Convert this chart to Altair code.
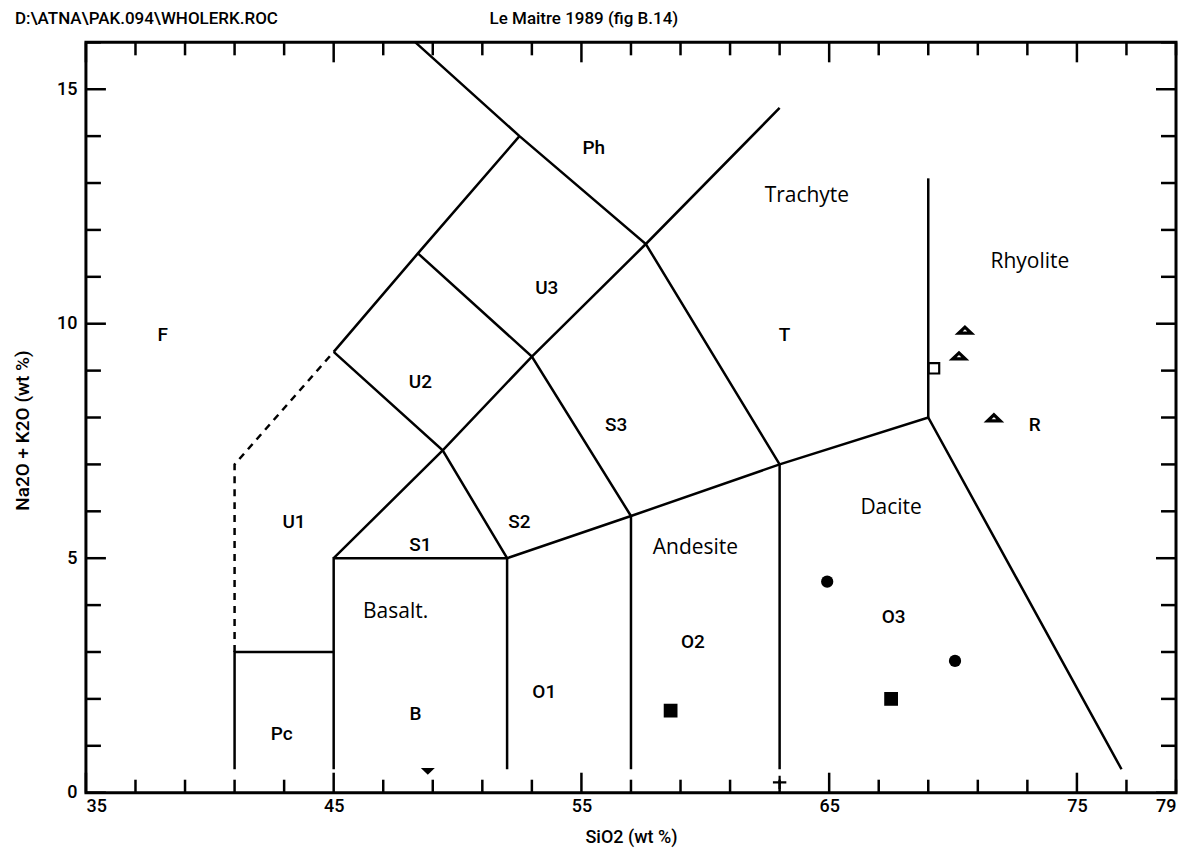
import altair as alt
import pandas as pd

# ---------------- data ----------------
X_DOMAIN = [35, 79]
Y_DOMAIN = [0, 16]

# boundary polylines (SiO2, Na2O+K2O)
seg_pc_x = [41, 41, 45]
seg_pc_y = [0.5, 3, 3]
seg_basalt_x = [45, 45, 52, 52]
seg_basalt_y = [0.5, 5, 5, 0.5]
seg_subalk_x = [52, 57, 63, 69, 76.8]
seg_subalk_y = [5, 5.9, 7, 8, 0.5]
seg_o1o2_x = [57, 57]
seg_o1o2_y = [0.5, 5.9]
seg_o2o3_x = [63, 63]
seg_o2o3_y = [0.5, 7]
seg_tr_x = [69, 69]
seg_tr_y = [8, 13.1]
seg_alk_x = [45, 49.4, 53, 57.6, 63]
seg_alk_y = [5, 7.3, 9.3, 11.7, 14.6]
seg_u1u2_x = [45, 49.4, 52]
seg_u1u2_y = [9.4, 7.3, 5]
seg_u2u3_x = [48.4, 53, 57]
seg_u2u3_y = [11.5, 9.3, 5.9]
seg_ph_x = [48.3, 52.5, 57.6, 63]
seg_ph_y = [16, 14, 11.7, 7]
seg_f_x = [45, 48.4, 52.5]
seg_f_y = [9.4, 11.5, 14]
dash_x = [41, 41, 45]
dash_y = [3, 7, 9.4]

# field codes
code_text = ["F", "Ph", "U3", "U2", "T", "S3", "R", "U1", "S1", "S2", "O3", "O2", "O1", "B", "Pc"]
code_x = [38.1, 55.5, 53.6, 48.5, 63.2, 56.4, 73.3, 43.4, 48.5, 52.5, 67.6, 59.5, 53.5, 48.3, 42.9]
code_y = [9.76, 13.74, 10.76, 8.76, 9.76, 7.84, 7.84, 5.77, 5.28, 5.77, 3.75, 3.22, 2.15, 1.68, 1.26]

# rock names
name_text = ["Trachyte", "Rhyolite", "Dacite", "Andesite", "Basalt."]
name_x = [64.1, 73.1, 67.5, 59.6, 47.5]
name_y = [12.72, 11.31, 6.07, 5.22, 3.86]

# samples
tri_x = [70.48, 70.24, 71.65]
tri_y = [9.86, 9.31, 7.99]
open_sq_x = [69.23]
open_sq_y = [9.05]
circle_x = [64.92, 70.08]
circle_y = [4.50, 2.81]
square_x = [58.6, 67.5]
square_y = [1.75, 2.0]
down_tri_x = [48.8]
down_tri_y = [0.45]
plus_x = [63.0]
plus_y = [0.22]

x_tick_values = list(range(35, 80, 2))
y_tick_values = list(range(0, 17))
x_label_values = [35, 45, 55, 65, 75, 79]
y_label_values = [0, 5, 10, 15]

header_text = ["D:\\ATNA\\PAK.094\\WHOLERK.ROC", "Le Maitre 1989 (fig B.14)"]

# ---------------- build tables ----------------
W, H = 1091, 751

def seg_rows(name, xs, ys):
    return [{"seg": name, "i": i, "x": x, "y": y} for i, (x, y) in enumerate(zip(xs, ys))]

solid = []
for name, xs, ys in [
    ("pc", seg_pc_x, seg_pc_y), ("basalt", seg_basalt_x, seg_basalt_y),
    ("subalk", seg_subalk_x, seg_subalk_y), ("o1o2", seg_o1o2_x, seg_o1o2_y),
    ("o2o3", seg_o2o3_x, seg_o2o3_y), ("tr", seg_tr_x, seg_tr_y),
    ("alk", seg_alk_x, seg_alk_y), ("u1u2", seg_u1u2_x, seg_u1u2_y),
    ("u2u3", seg_u2u3_x, seg_u2u3_y), ("ph", seg_ph_x, seg_ph_y),
    ("f", seg_f_x, seg_f_y),
]:
    solid += seg_rows(name, xs, ys)
solid_df = pd.DataFrame(solid)
dash_df = pd.DataFrame(seg_rows("dash", dash_x, dash_y))

codes_df = pd.DataFrame({"t": code_text, "x": code_x, "y": code_y})
names_df = pd.DataFrame({"t": name_text, "x": name_x, "y": name_y})

xt_df = pd.DataFrame({"x": x_tick_values, "major": [(v - 35) % 10 == 0 for v in x_tick_values]})
yt_df = pd.DataFrame({"y": y_tick_values, "major": [v % 5 == 0 for v in y_tick_values]})

xs = alt.Scale(domain=X_DOMAIN, nice=False, zero=False)
ys = alt.Scale(domain=Y_DOMAIN, nice=False, zero=False)

AXFONT = "Roboto"
LW = 2.5

x_enc = alt.X("x:Q", scale=xs, axis=alt.Axis(
    values=x_label_values, title="SiO2 (wt %)", ticks=False, domain=False, grid=False,
    labelFlush=True, labelFontSize=18, labelFont=AXFONT, labelFontWeight=500,
    labelColor="black", labelPadding=5,
    titleFont=AXFONT, titleFontSize=18, titleFontWeight=500, titleColor="black",
    titleBaseline="middle", titleY=45))
y_enc = alt.Y("y:Q", scale=ys, axis=alt.Axis(
    values=y_label_values, title="Na2O + K2O (wt %)", ticks=False, domain=False, grid=False,
    labelFontSize=18, labelFont=AXFONT, labelFontWeight=500, labelColor="black", labelPadding=9,
    titleFont=AXFONT, titleFontSize=19, titleFontWeight=500, titleColor="black",
    titleX=-63, titleY=388, titleBaseline="middle"))

lines = alt.Chart(solid_df).mark_line(color="black", strokeWidth=LW).encode(
    x=x_enc, y=y_enc, detail="seg:N", order="i:Q")
dashed = alt.Chart(dash_df).mark_line(color="black", strokeWidth=LW, strokeDash=[7, 6]).encode(
    x=alt.X("x:Q", scale=xs), y=alt.Y("y:Q", scale=ys), detail="seg:N", order="i:Q")

# inward ticks
def xticks(y0, sign):
    base = alt.Chart(xt_df)
    minor = base.transform_filter("!datum.major").mark_rule(color="black", strokeWidth=LW).encode(
        x=alt.X("x:Q", scale=xs), y=alt.value(y0), y2=alt.value(y0 + sign * 13))
    major = base.transform_filter("datum.major").mark_rule(color="black", strokeWidth=LW).encode(
        x=alt.X("x:Q", scale=xs), y=alt.value(y0), y2=alt.value(y0 + sign * 20))
    return minor + major

def yticks(x0, sign):
    base = alt.Chart(yt_df)
    minor = base.transform_filter("!datum.major").mark_rule(color="black", strokeWidth=LW).encode(
        y=alt.Y("y:Q", scale=ys), x=alt.value(x0), x2=alt.value(x0 + sign * 15))
    major = base.transform_filter("datum.major").mark_rule(color="black", strokeWidth=LW).encode(
        y=alt.Y("y:Q", scale=ys), x=alt.value(x0), x2=alt.value(x0 + sign * 20))
    return minor + major

ticks = xticks(H, -1) + xticks(0, 1) + yticks(0, 1) + yticks(W, -1)

codes = alt.Chart(codes_df).mark_text(font=AXFONT, fontSize=19, fontWeight=500, color="black").encode(
    x=alt.X("x:Q", scale=xs), y=alt.Y("y:Q", scale=ys), text="t:N")
names = alt.Chart(names_df).mark_text(font="Open Sans", fontSize=21, color="black").encode(
    x=alt.X("x:Q", scale=xs), y=alt.Y("y:Q", scale=ys), text="t:N")

def pts(xv, yv):
    return alt.Chart(pd.DataFrame({"x": xv, "y": yv}))

FLAT_UP = "M-1,0.45L1,0.45L0,-0.5Z"
FLAT_DOWN = "M-1,-0.5L1,-0.5L0,0.45Z"
PLUS = "M-1,0L1,0M0,-1L0,1"

tri = pts(tri_x, tri_y).mark_point(shape=FLAT_UP, size=160, filled=True, fill="white",
                                   stroke="black", strokeWidth=3.2, opacity=1).encode(
    x=alt.X("x:Q", scale=xs), y=alt.Y("y:Q", scale=ys))
osq = pts(open_sq_x, open_sq_y).mark_point(shape="square", size=110, filled=True, fill="white",
                                           stroke="black", strokeWidth=2.2, opacity=1).encode(
    x=alt.X("x:Q", scale=xs), y=alt.Y("y:Q", scale=ys))
circ = pts(circle_x, circle_y).mark_point(shape="circle", size=150, filled=True, color="black",
                                          opacity=1).encode(
    x=alt.X("x:Q", scale=xs), y=alt.Y("y:Q", scale=ys))
sq = pts(square_x, square_y).mark_point(shape="square", size=190, filled=True, color="black",
                                        opacity=1).encode(
    x=alt.X("x:Q", scale=xs), y=alt.Y("y:Q", scale=ys))
dtri = pts(down_tri_x, down_tri_y).mark_point(shape=FLAT_DOWN, size=196, filled=True, color="black",
                                              opacity=1).encode(
    x=alt.X("x:Q", scale=xs), y=alt.Y("y:Q", scale=ys))
plus = pts(plus_x, plus_y).mark_point(shape=PLUS, size=180, filled=False, color="black",
                                      strokeWidth=2.2, opacity=1).encode(
    x=alt.X("x:Q", scale=xs), y=alt.Y("y:Q", scale=ys))

header_left = alt.Chart(pd.DataFrame({"t": [header_text[0]]})).mark_text(
    font=AXFONT, fontSize=17, fontWeight=500, align="left", baseline="middle", color="black").encode(
    text="t:N", x=alt.value(-71), y=alt.value(-23))
header_right = alt.Chart(pd.DataFrame({"t": [header_text[1]]})).mark_text(
    font=AXFONT, fontSize=17, fontWeight=500, align="left", baseline="middle", color="black").encode(
    text="t:N", x=alt.value(404), y=alt.value(-23))

chart = alt.layer(
    lines, dashed, ticks, codes, names, tri, osq, circ, sq, dtri, plus, header_left, header_right
).properties(
    width=W, height=H,
    background="white",
    autosize=alt.AutoSizeParams(type="none"),
    padding={"left": 78, "top": 34, "right": 12, "bottom": 60},
).configure_view(stroke="black", strokeWidth=3)

chart.save("out.html", embed_options={"renderer": "svg", "actions": False})
